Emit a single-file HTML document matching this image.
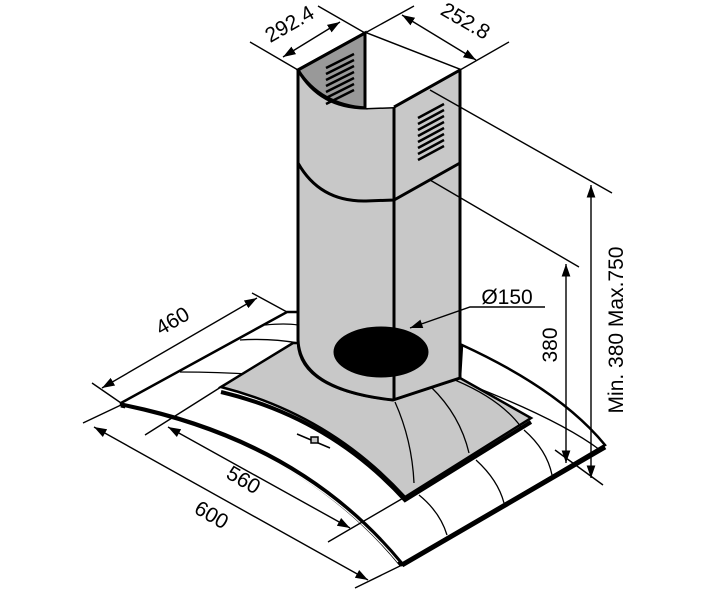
<!DOCTYPE html>
<html><head><style>body{margin:0;background:#fff}svg{display:block}</style></head><body>
<svg width="710" height="600" viewBox="0 0 710 600" xmlns="http://www.w3.org/2000/svg">
<defs><marker id="a" viewBox="0 0 10 10" refX="10" refY="5" markerWidth="9" markerHeight="9" orient="auto-start-reverse"><path d="M0,1.5 L10,5 L0,8.5z" fill="#000"/></marker></defs>
<g fill="none" stroke="#000">
<!-- glass -->
<path d="M121,403 L287,312 L298,312 L298,340 Q300,390 393,400 L460,378 L462,345 Q560,390 605,445 L402,565 Q300,440 121,405 Z" fill="#fff" stroke-width="2.5"/>
<path d="M121,405 Q300,440 402,565" stroke-width="5"/>
<path d="M402,565 L605,447" stroke-width="5"/>
<path d="M125,408 Q300,445 398,562" stroke="#fff" stroke-width="1.2"/>
<g stroke-width="1.3">
<path d="M180,372 Q240,372 298,378"/><path d="M240,340 Q270,338 298,343"/><path d="M265,325 Q285,323 298,325"/>
<path d="M419,495 Q440,512 447,535"/><path d="M476,460 Q498,480 504,503"/><path d="M524,430 Q547,450 552,475"/>
<path d="M470,385 Q560,420 600,450"/>
</g>
<!-- grey panel -->
<path d="M221,387 L293,343 L298,343 Q300,390 393,400 L460,378 L531,418 L405,497 Q330,415 221,387 Z" fill="#c8c8c8" stroke-width="2.5"/>
<path d="M221,392 Q330,418 405,500 L531,422" stroke-width="4"/>
<g stroke-width="1.3"><path d="M395,402 Q412,440 414,483"/><path d="M431,387 Q460,415 469,453"/><path d="M450,378 Q500,398 521,427"/></g>
<!-- chimney -->
<path d="M298,70 L365,33 L460,70 L460,378 L393,400 Q300,390 298,340 Z" fill="#c8c8c8" stroke-width="3"/>
<path d="M298,70 L365,33 L366,108 Q320,105 298,70 Z" fill="#999" stroke-width="3"/>
<path d="M298,70 Q320,108 366,108 L394,107 L460,70" stroke-width="3"/>
<path d="M298,163 Q320,202 366,201 L394,200 L460,163" stroke-width="3"/>
<path d="M394,107 L394,400" stroke-width="3"/>
<polygon points="365,33 460,70 394,107 366,108" fill="#fff" stroke="none"/>
<path d="M365,33 L365,108 M460,70 L460,378 M394,107 L460,70" stroke-width="3"/>
<g stroke-width="2.5">
<path d="M326,68 L354,54 M326,74 L354,60 M326,80 L354,66 M326,86 L354,72 M326,92 L354,78 M326,98 L354,84 M326,104 L354,90"/>
<path d="M418,118 L444,104 M418,124 L444,110 M418,130 L444,116 M418,136 L444,122 M418,142 L444,128 M418,148 L444,134 M418,154 L444,140 M418,160 L444,146"/>
</g>
<ellipse cx="381" cy="352" rx="47" ry="25" fill="#000"/>
<!-- control -->
<g stroke-width="1.5"><path d="M297,434 L330,448"/><rect x="311" y="437" width="7" height="6" fill="#c8c8c8"/></g>
<!-- dims -->
<g stroke-width="1.4">
<path d="M298,70 L250,42 M365,33 L318,6"/>
<path d="M283,57 L340,22" marker-start="url(#a)" marker-end="url(#a)"/>
<path d="M365,33 L414,6 M460,70 L509,42"/>
<path d="M402,15 L476,60" marker-start="url(#a)" marker-end="url(#a)"/>
<path d="M430,90 L612,193 M430,180 L579,267"/>
<path d="M591,185 L591,478" marker-start="url(#a)" marker-end="url(#a)"/>
<path d="M566,264 L566,463" marker-start="url(#a)" marker-end="url(#a)"/>
<path d="M555,450 L603,485"/>
<path d="M287,312 L252,293 M121,403 L92,383"/>
<path d="M102,388 L257,298" marker-start="url(#a)" marker-end="url(#a)"/>
<path d="M221,387 L145,435 M405,497 L328,542"/>
<path d="M168,427 L350,528" marker-start="url(#a)" marker-end="url(#a)"/>
<path d="M121,405 L83,423 M402,565 L355,588"/>
<path d="M94,427 L368,580" marker-start="url(#a)" marker-end="url(#a)"/>
<path d="M545,307 L470,307 L410,328" marker-end="url(#a)"/>
</g>
</g>
<g font-family="Liberation Sans, sans-serif" font-size="21" fill="#000" text-anchor="middle">
<text transform="translate(293,30) rotate(-30)">292.4</text>
<text transform="translate(462,27) rotate(30)">252.8</text>
<text transform="translate(176,327) rotate(-30)">460</text>
<text transform="translate(240,486) rotate(30)">560</text>
<text transform="translate(208,521) rotate(30)">600</text>
<text transform="translate(557,345) rotate(-90)">380</text>
<text transform="translate(623,330) rotate(-90)">Min. 380 Max.750</text>
<text x="507" y="304">Ø150</text>
</g>
</svg>
</body></html>
